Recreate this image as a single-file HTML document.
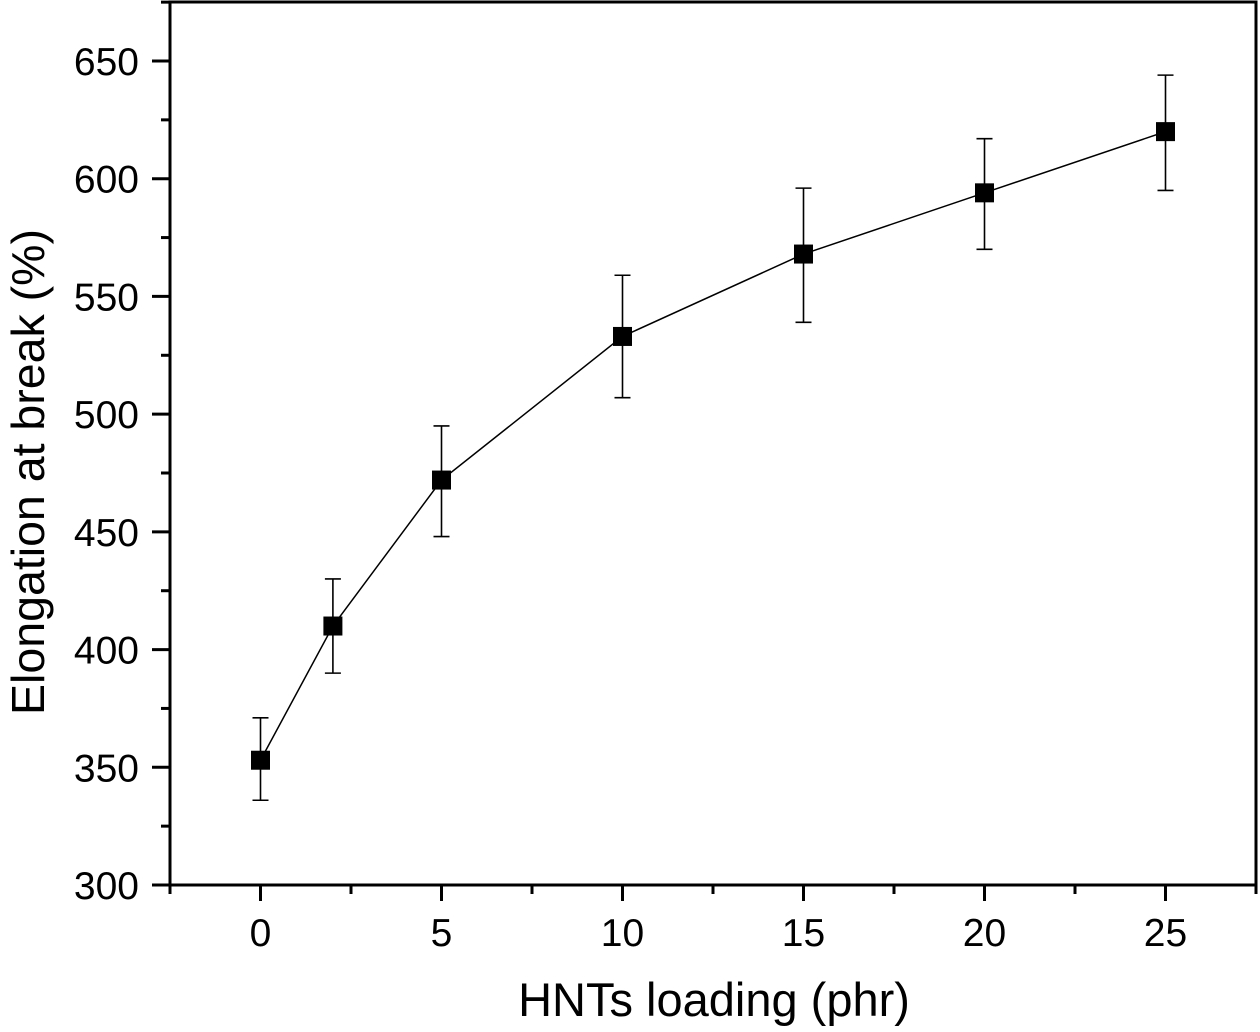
<!DOCTYPE html>
<html><head><meta charset="utf-8"><style>
html,body{margin:0;padding:0;background:#fff;}
svg{display:block;font-family:"Liberation Sans",Arial,sans-serif;}
</style></head><body>
<svg id="chart" width="1260" height="1032" viewBox="0 0 1260 1032" xmlns="http://www.w3.org/2000/svg"></svg>
<script>
const categories = [0, 2, 5, 10, 15, 20, 25];
const values = [353, 410, 472, 533, 568, 594, 620];
const errLow = [336, 390, 448, 507, 539, 570, 595];
const errHigh = [371, 430, 495, 559, 596, 617, 644];
const xTickLabels = [0, 5, 10, 15, 20, 25];
const yTickLabels = [300, 350, 400, 450, 500, 550, 600, 650];

const L=170, R=1256, T=2, B=885;
const xMin=-2.5, xMax=27.5, yMin=300, yMax=300+(B-T)/((885-61)/350);
const sx=v=>L+(v-xMin)/(xMax-xMin)*(R-L);
const sy=v=>B-(v-yMin)/(yMax-yMin)*(B-T);
const svg=document.getElementById('chart');
const NS='http://www.w3.org/2000/svg';
function mk(tag,attrs,parent){const e=document.createElementNS(NS,tag);for(const k in attrs)e.setAttribute(k,attrs[k]);(parent||svg).appendChild(e);return e;}

const frame=mk('rect',{x:L,y:T,width:R-L,height:B-T,fill:'none',stroke:'#000','stroke-width':3});



for(let v=xMin; v<=xMax+0.01; v+=2.5){
  const major=Math.abs(v%5)<0.01;
  const t=mk('line',{x1:sx(v),x2:sx(v),y1:B,y2:B+(major?16:9),stroke:'#000','stroke-width':3});
  
  
}
xTickLabels.forEach(v=>{
  const t=mk('text',{x:sx(v),y:946,'font-size':39,'text-anchor':'middle',fill:'#000'});
  t.textContent=v;
  
  
});
for(let v=300; v<=yMax; v+=25){
  const major=v%50===0;
  const t=mk('line',{x1:L,x2:L-(major?18:9),y1:sy(v),y2:sy(v),stroke:'#000','stroke-width':3});
  
  
}
yTickLabels.forEach(v=>{
  const t=mk('text',{x:139,y:sy(v)+14,'font-size':39,'text-anchor':'end',fill:'#000'});
  t.textContent=v;
  
  
});
const xt=mk('text',{x:714,y:1016,'font-size':47,'text-anchor':'middle',fill:'#000'});
xt.textContent='HNTs loading (phr)';


const yt=mk('text',{x:0,y:0,'font-size':46.5,'text-anchor':'middle',fill:'#000',transform:'translate(44,472) rotate(-90)'});
yt.textContent='Elongation at break (%)';



const line=mk('polyline',{points:categories.map((c,i)=>sx(c)+','+sy(values[i])).join(' '),fill:'none',stroke:'#000','stroke-width':1.5});



categories.forEach((c,i)=>{
  const x=sx(c);
  const eb=mk('path',{d:`M${x},${sy(errLow[i])}V${sy(errHigh[i])}M${x-8},${sy(errLow[i])}H${x+8}M${x-8},${sy(errHigh[i])}H${x+8}`,stroke:'#000','stroke-width':1.6,fill:'none'});
  
  
  const m=mk('rect',{x:x-9.5,y:sy(values[i])-9.5,width:19,height:19,fill:'#000'});
  
  
});
</script>
</body></html>
